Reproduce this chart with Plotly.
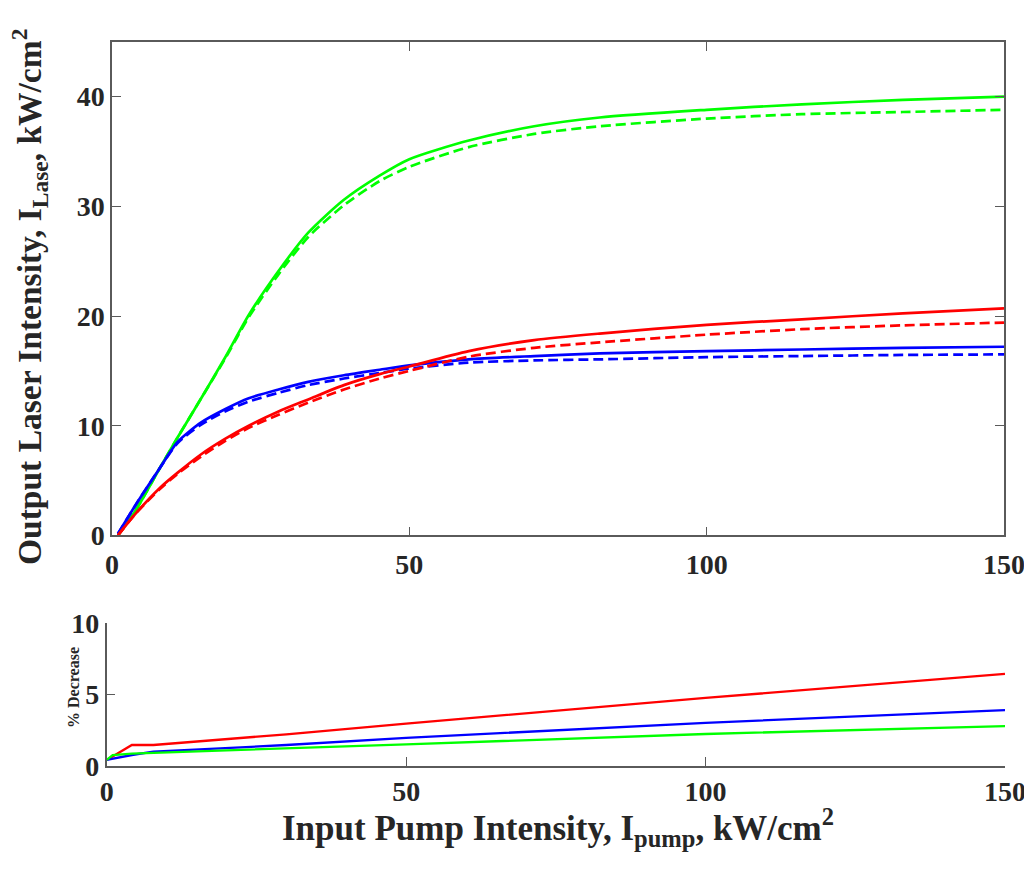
import plotly.graph_objects as go

# ---- data ----
pump_top = [1, 4, 8, 11, 15, 19, 23, 28, 33, 39, 45, 50, 60, 71, 82, 100, 116, 133, 150]
green_solid = [0, 2.3, 6.1, 8.9, 12.5, 16.2, 20.1, 24.1, 27.6, 30.6, 32.8, 34.3, 36.0, 37.3, 38.1, 38.8, 39.3, 39.7, 40.0]
green_dash = [0, 2.3, 6.1, 8.9, 12.5, 16.1, 19.9, 23.8, 27.2, 30.1, 32.3, 33.6, 35.4, 36.6, 37.3, 38.0, 38.4, 38.6, 38.8]
blue_solid = [0.15, 2.8, 6.1, 8.5, 10.3, 11.5, 12.5, 13.3, 14.0, 14.6, 15.1, 15.5, 16.05, 16.35, 16.6, 16.8, 16.95, 17.1, 17.2]
blue_dash = [0.15, 2.8, 6.1, 8.4, 10.1, 11.3, 12.2, 13.0, 13.7, 14.3, 14.8, 15.2, 15.75, 15.95, 16.05, 16.25, 16.35, 16.45, 16.5]
red_solid = [0, 2.0, 4.3, 5.7, 7.4, 8.8, 10.0, 11.3, 12.4, 13.7, 14.7, 15.4, 16.8, 17.8, 18.4, 19.2, 19.7, 20.25, 20.7]
red_dash = [0, 2.0, 4.2, 5.6, 7.2, 8.6, 9.8, 11.0, 12.1, 13.3, 14.3, 15.0, 16.3, 17.1, 17.6, 18.3, 18.8, 19.15, 19.4]

pump_bot = [0, 1, 4.2, 7.8, 30, 50, 100, 150]
red_pct = [0.4, 0.65, 1.45, 1.45, 2.2, 2.95, 4.75, 6.43]
blue_pct = [0.4, 0.48, 0.75, 0.98, 1.45, 1.95, 3.0, 3.9]
green_pct = [0.4, 0.75, 0.85, 0.9, 1.2, 1.5, 2.22, 2.78]

x_ticks = [0, 50, 100, 150]
y_ticks_top = [0, 10, 20, 30, 40]
y_ticks_bot = [0, 5, 10]

GREEN = "#00ff00"
BLUE = "#0000ff"
RED = "#ff0000"
LW = 2.7
DASH = "10px,5px"
FONT = "Liberation Serif"
AX = "#5a5a5a"
TXT = "#262626"

# page places the figure 8px in from the window corner (body margin)
OFF = 8
W, H = 1032 - OFF, 879 - OFF
ML, MR, MT, MB = 98, 27, 33, 113
PW, PH = W - ML - MR, H - MT - MB


def fx(sx):  # screen x -> paper x
    return (sx - OFF - ML) / PW


def fy(sy):  # screen y -> paper y
    return (H - MB - (sy - OFF)) / PH


fig = go.Figure()
for y, c, d in [(green_solid, GREEN, "solid"), (green_dash, GREEN, DASH),
                (blue_solid, BLUE, "solid"), (blue_dash, BLUE, DASH),
                (red_solid, RED, "solid"), (red_dash, RED, DASH)]:
    fig.add_trace(go.Scatter(x=pump_top, y=y, mode="lines", xaxis="x", yaxis="y",
                             line=dict(color=c, width=LW, dash=d, shape="spline", smoothing=0.7),
                             showlegend=False))
for y, c in [(red_pct, RED), (blue_pct, BLUE), (green_pct, GREEN)]:
    fig.add_trace(go.Scatter(x=pump_bot, y=y, mode="lines", xaxis="x2", yaxis="y2",
                             line=dict(color=c, width=2.3), showlegend=False))

tickfont = dict(family=FONT, size=28, color=TXT, weight="bold")
common = dict(showgrid=False, zeroline=False, ticks="inside", ticklen=9, tickwidth=1,
              tickcolor=AX, linecolor=AX, linewidth=1.5, showline=True, tickfont=tickfont,
              automargin=False)

fig.update_layout(
    width=W, height=H, margin=dict(l=ML, r=MR, t=MT, b=MB, autoexpand=False),
    plot_bgcolor="white", paper_bgcolor="white",
    xaxis=dict(domain=[fx(112), fx(1004)], range=[0, 150], tickvals=x_ticks,
               mirror="allticks", anchor="y", ticklabelstandoff=3, **common),
    yaxis=dict(domain=[fy(535.4), fy(41.8)], range=[0, 45], tickvals=y_ticks_top,
               mirror="allticks", anchor="x", ticklabelstandoff=0, **common),
    xaxis2=dict(domain=[fx(106.7), fx(1005)], range=[0, 150], tickvals=x_ticks,
                mirror=False, anchor="y2", ticklabelstandoff=0, **common),
    yaxis2=dict(domain=[fy(765.7), fy(623)], range=[0, 10], tickvals=y_ticks_bot,
                mirror=False, anchor="x2", ticklabelstandoff=0, **common),
    annotations=[
        dict(text="Output Laser Intensity, I<sub>Lase</sub>, kW/cm<sup>2</sup>",
             x=fx(29), y=fy(297), xref="paper", yref="paper", textangle=-90,
             showarrow=False, font=dict(family=FONT, size=33.5, color=TXT, weight="bold"),
             xanchor="center", yanchor="middle"),
        dict(text="% Decrease", x=fx(73), y=fy(688), xref="paper", yref="paper",
             textangle=-90, showarrow=False,
             font=dict(family=FONT, size=16, color=TXT, weight="bold"),
             xanchor="center", yanchor="middle"),
        dict(text="Input Pump Intensity, I<sub>pump</sub>, kW/cm<sup>2</sup>",
             x=fx(558), y=fy(827), xref="paper", yref="paper",
             showarrow=False, font=dict(family=FONT, size=35, color=TXT, weight="bold"),
             xanchor="center", yanchor="middle"),
    ],
)

fig.write_html("out.html")
